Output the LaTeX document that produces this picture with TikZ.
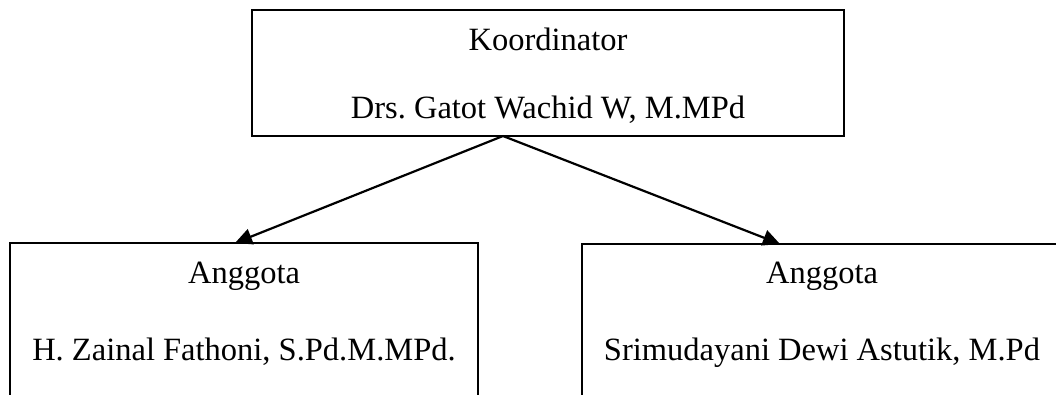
\documentclass[tikz,border=0pt]{standalone}
\usepackage{fontspec}
\setmainfont{Liberation Serif}
\usetikzlibrary{arrows.meta}
\frenchspacing
\begin{document}
\begin{tikzpicture}[x=1pt,y=-1pt,
  box/.style={draw=black, line width=2pt, rectangle, inner sep=0pt},
  txt/.style={anchor=base, inner sep=0pt, font=\fontsize{32.5}{38}\selectfont},
  conn/.style={line width=2.2pt, -{Triangle[length=17pt,width=16pt]}}]
\useasboundingbox (0,0) rectangle (1056,394);
\clip (0,0) rectangle (1056,394);
\node[box, minimum width=592pt, minimum height=126pt] (top) at (548,73) {};
\node[box, minimum width=468pt, minimum height=200pt] (left) at (244,343) {};
\node[box, minimum width=480pt, minimum height=200pt] (right) at (822,344) {};
\node[txt] (t1) at (548,50) {Koordinator};
\node[txt] (t2) at (548,118) {Drs.\ Gatot Wachid W, M.MPd};
\node[txt] (l1) at (244,283) {Anggota};
\node[txt] (l2) at (244,360) {H. Zainal Fathoni, S.Pd.M.MPd.};
\node[txt] (r1) at (822,283) {Anggota};
\node[txt] (r2) at (822,360) {Srimudayani Dewi Astutik, M.Pd};
\coordinate (apex) at (503,136);
\coordinate (ltip) at (235,243);
\coordinate (rtip) at (780,244);
\draw[conn] (apex) -- (ltip);
\draw[conn] (apex) -- (rtip);
\end{tikzpicture}
\end{document}
